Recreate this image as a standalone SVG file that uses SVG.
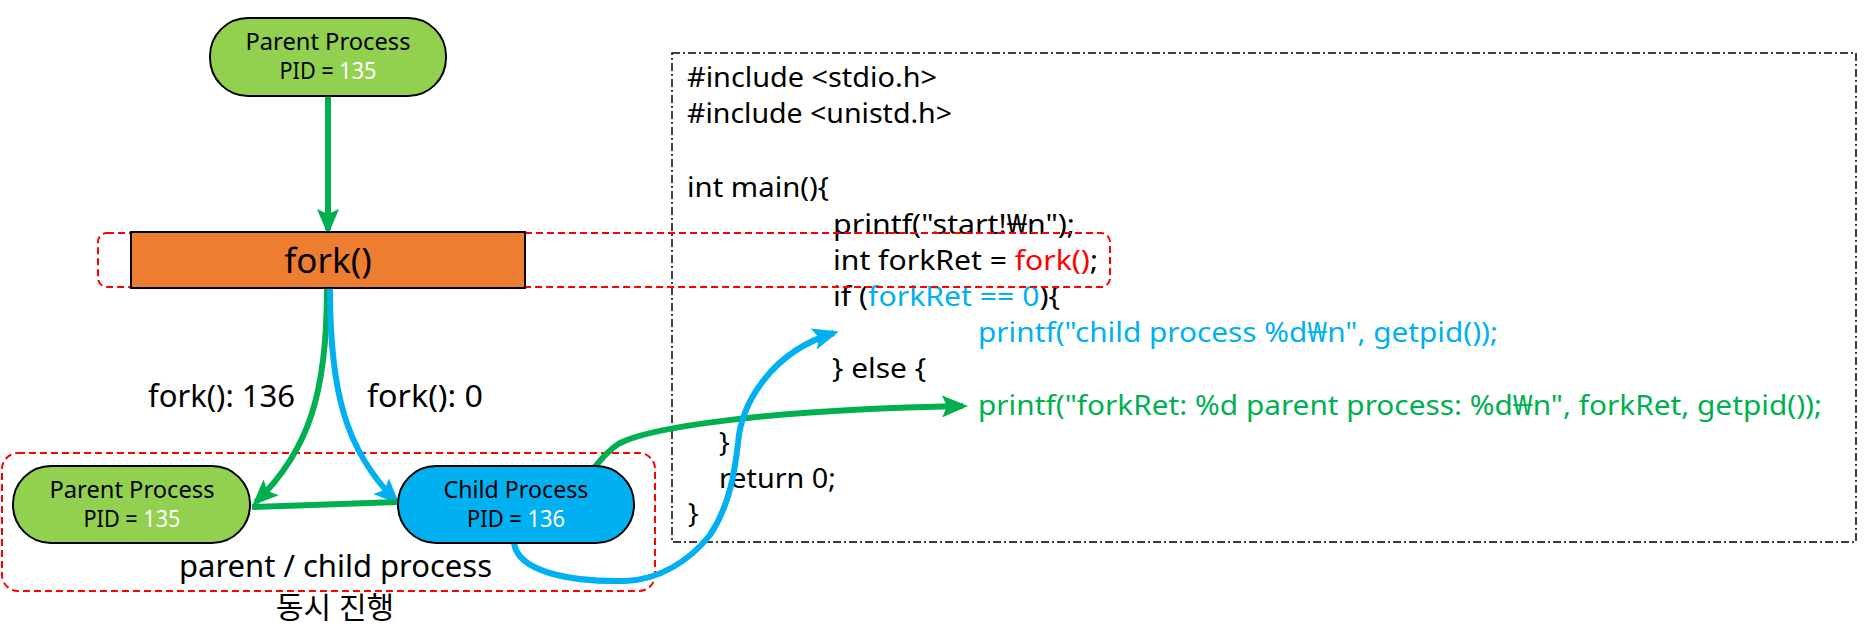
<svg xmlns="http://www.w3.org/2000/svg" width="1870" height="628" viewBox="0 0 1870 628">
<style>
text{font-family:"Noto Sans","Noto Sans CJK KR",sans-serif;fill:#000}
.node{font-size:23px}
.code{font-size:28px}
.lbl{font-size:30px}
.w{fill:#fff}
.r{fill:#FF0000}
.b{fill:#00B0F0}
.g{fill:#00B050}
.cg{stroke:#00B050;stroke-width:6;fill:none}
.cb{stroke:#00B0F0;stroke-width:6;fill:none}
.dash{fill:none;stroke:#FF0000;stroke-width:2;stroke-dasharray:7,4}
</style>
<defs>
<marker id="ag" markerUnits="userSpaceOnUse" markerWidth="26" markerHeight="22" refX="21" refY="11" orient="auto" viewBox="0 0 26 22">
<path d="M0,0 L26,11 L0,22 L5,11 z" fill="#00B050"/>
</marker>
<marker id="ab" markerUnits="userSpaceOnUse" markerWidth="26" markerHeight="22" refX="21" refY="11" orient="auto" viewBox="0 0 26 22">
<path d="M0,0 L26,11 L0,22 L5,11 z" fill="#00B0F0"/>
</marker>
</defs>

<g id="code-box">
<rect x="672" y="53" width="1184" height="489" fill="none" stroke="#000" stroke-width="1.5" stroke-dasharray="8,3,2,3"/>
<text class="code" x="687" y="87" textLength="250" lengthAdjust="spacingAndGlyphs">#include &lt;stdio.h&gt;</text>
<text class="code" x="687" y="123" textLength="265" lengthAdjust="spacingAndGlyphs">#include &lt;unistd.h&gt;</text>
<text class="code" x="687" y="197" textLength="142" lengthAdjust="spacingAndGlyphs">int main(){</text>
<text class="code" x="833" y="234" textLength="242" lengthAdjust="spacingAndGlyphs">printf("start!₩n");</text>
<text class="code" x="833" y="270" textLength="265" lengthAdjust="spacingAndGlyphs">int forkRet = <tspan class="r">fork()</tspan>;</text>
<text class="code" x="833" y="306" textLength="227" lengthAdjust="spacingAndGlyphs">if (<tspan class="b">forkRet == 0</tspan>){</text>
<text class="code b" x="978" y="342" textLength="520" lengthAdjust="spacingAndGlyphs">printf("child process %d₩n", getpid());</text>
<text class="code" x="832" y="378" textLength="94" lengthAdjust="spacingAndGlyphs">} else {</text>
<text class="code g" x="978" y="415" textLength="844" lengthAdjust="spacingAndGlyphs">printf("forkRet: %d parent process: %d₩n", forkRet, getpid());</text>
<text class="code" x="719" y="452">}</text>
<text class="code" x="719" y="488" textLength="117" lengthAdjust="spacingAndGlyphs">return 0;</text>
<text class="code" x="688" y="523">}</text>
</g>

<g id="fork-group">
<rect class="dash" x="98" y="233" width="1012" height="54" rx="9"/>
</g>

<g id="process-group">
<rect class="dash" x="2" y="453" width="653" height="138" rx="16"/>
<text class="lbl" x="179" y="577" textLength="313" lengthAdjust="spacingAndGlyphs">parent / child process</text>
<text class="lbl" x="335" y="618" text-anchor="middle">동시 진행</text>
</g>

<g id="connectors">
<path class="cg" d="M328,96 L328,230" stroke-width="8" marker-end="url(#ag)"/>
<path class="cg" d="M327,289 C327,390 310,450 256,502" marker-end="url(#ag)"/>
<path class="cb" d="M330,289 C330,390 345,450 396,501" marker-end="url(#ab)"/>
<path class="cg" d="M252,507 L398,502 L590,472 C600,462 605,452 620,443 C650,428 760,410 963,406" marker-end="url(#ag)"/>
<path class="cb" d="M514,543 C518,572 570,582 625,581 C660,580 690,560 710,535 C730,505 735,470 738,443 C741,405 770,352 834,333" marker-end="url(#ab)"/>
<text class="lbl" x="148" y="407" textLength="147" lengthAdjust="spacingAndGlyphs">fork(): 136</text>
<text class="lbl" x="367" y="407" textLength="116" lengthAdjust="spacingAndGlyphs">fork(): 0</text>
</g>

<g id="parent-top">
<rect x="210" y="18" width="236" height="78" rx="38" fill="#92D050" stroke="#000" stroke-width="2"/>
<text class="node" x="328" y="50" text-anchor="middle" textLength="165" lengthAdjust="spacingAndGlyphs">Parent Process</text>
<text class="node" x="328" y="79" text-anchor="middle" textLength="97" lengthAdjust="spacingAndGlyphs">PID = <tspan class="w">135</tspan></text>
</g>

<g id="fork">
<rect x="131" y="232" width="394" height="56" fill="#ED7D31" stroke="#000" stroke-width="2"/>
<text x="328" y="273" text-anchor="middle" font-size="35">fork()</text>
</g>

<g id="parent-child">
<rect x="13" y="466" width="237" height="77" rx="38" fill="#92D050" stroke="#000" stroke-width="2"/>
<text class="node" x="132" y="498" text-anchor="middle" textLength="165" lengthAdjust="spacingAndGlyphs">Parent Process</text>
<text class="node" x="132" y="527" text-anchor="middle" textLength="97" lengthAdjust="spacingAndGlyphs">PID = <tspan class="w">135</tspan></text>
</g>

<g id="child">
<rect x="398" y="466" width="236" height="77" rx="38" fill="#00B0F0" stroke="#000" stroke-width="2"/>
<text class="node" x="516" y="498" text-anchor="middle" textLength="145" lengthAdjust="spacingAndGlyphs">Child Process</text>
<text class="node" x="516" y="527" text-anchor="middle" textLength="98" lengthAdjust="spacingAndGlyphs">PID = <tspan class="w">136</tspan></text>
</g>
</svg>
